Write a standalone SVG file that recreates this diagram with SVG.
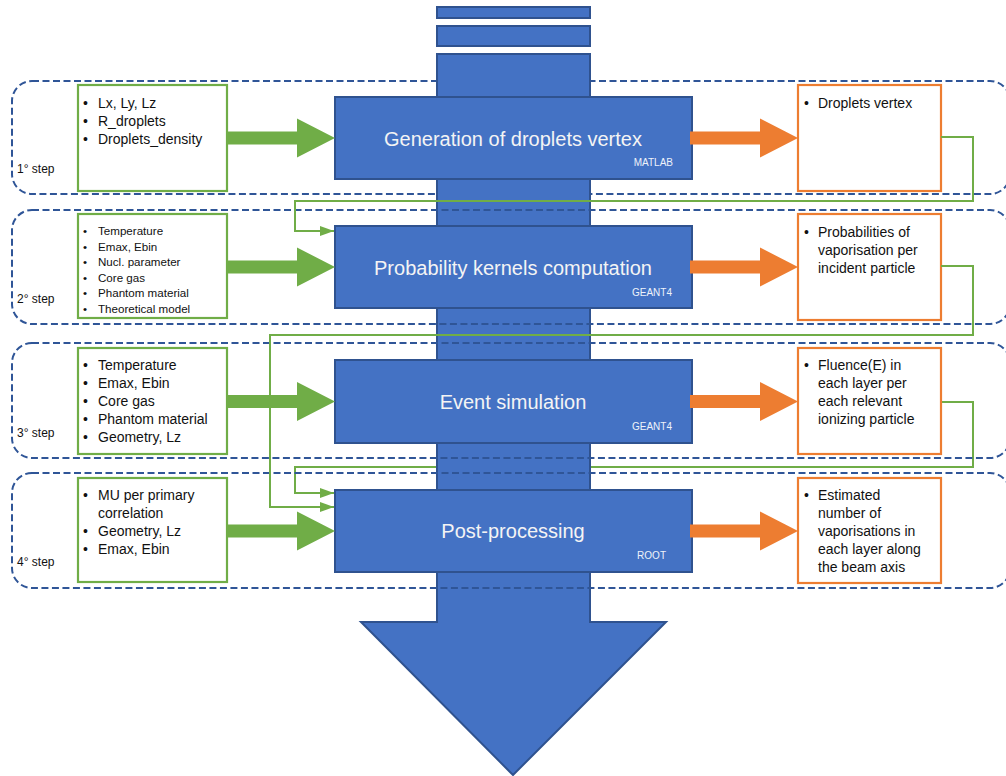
<svg xmlns="http://www.w3.org/2000/svg" width="1006" height="776" viewBox="0 0 1006 776">
  <style>
    text { font-family: "Liberation Sans", Arial, sans-serif; }
    .frame { fill: none; stroke: #2f5597; stroke-width: 2; stroke-dasharray: 7 3.5; }
    .flow { fill: #4472c4; stroke: #2f528f; stroke-width: 2; }
    .proc { fill: #4472c4; stroke: #2f528f; stroke-width: 2; }
    .in { fill: #ffffff; stroke: #70ad47; stroke-width: 2.2; }
    .out { fill: #ffffff; stroke: #ed7d31; stroke-width: 2.2; }
    .title { fill: #f4f4f4; font-size: 20px; text-anchor: middle; }
    .tool { fill: #eef2fa; font-size: 10px; text-anchor: end; }
    .txt { fill: #111111; font-size: 14px; }
    .small { fill: #111111; font-size: 11.6px; }
    .step { fill: #111111; font-size: 12px; }
    .link { fill: none; stroke: #70ad47; stroke-width: 2; marker-end: url(#tip); }
    .fat-g { fill: #70ad47; }
    .fat-o { fill: #ed7d31; }
  </style>
  <defs>
    <marker id="tip" viewBox="0 0 14 10" refX="14" refY="5" markerWidth="14" markerHeight="10" markerUnits="userSpaceOnUse" orient="auto">
      <path d="M0,0 L14,5 L0,10 Z" fill="#70ad47"/>
    </marker>
    <!-- block arrow, tip at origin -->
    <path id="fat" d="M-108,-6.5 H-38 V-19.5 L0,0 L-38,19.5 V6.5 H-108 Z"/>
  </defs>

  <rect width="1006" height="776" fill="#ffffff"/>

  <!-- step 1 frame lies beneath the main flow arrow -->
  <g id="step1-frame">
    <rect class="frame" x="12" y="81" width="998" height="113" rx="20"/>
    <text class="step" x="17" y="173">1° step</text>
  </g>

  <!-- feedback link hidden behind the flow arrow -->
  <g id="connectors-behind">
    <path class="link" d="M941,402 H973 V467 H295 V493 H334"/>
  </g>

  <!-- main downward flow arrow -->
  <g id="flow">
    <rect class="flow" x="437" y="7" width="153" height="11"/>
    <rect class="flow" x="437" y="26" width="153" height="20"/>
    <path class="flow" d="M437,54 H590 V622 H666 L513,775 L361,622 H437 Z"/>
  </g>

  <g id="step2-frame">
    <rect class="frame" x="12" y="210" width="998" height="114" rx="20"/>
    <text class="step" x="17" y="303">2° step</text>
  </g>
  <g id="step3-frame">
    <rect class="frame" x="12" y="343" width="998" height="115" rx="20"/>
    <text class="step" x="17" y="437">3° step</text>
  </g>
  <g id="step4-frame">
    <rect class="frame" x="12" y="473" width="998" height="115" rx="20"/>
    <text class="step" x="17" y="566">4° step</text>
  </g>

  <!-- inputs -->
  <g id="input1">
    <rect class="in" x="78" y="85" width="149" height="106"/>
    <text class="txt"><tspan x="83" y="108">•</tspan><tspan x="98" y="108">Lx, Ly, Lz</tspan></text>
    <text class="txt"><tspan x="83" y="126">•</tspan><tspan x="98" y="126">R_droplets</tspan></text>
    <text class="txt"><tspan x="83" y="144">•</tspan><tspan x="98" y="144">Droplets_density</tspan></text>
  </g>
  <g id="input2">
    <rect class="in" x="78" y="214" width="149" height="104"/>
    <text class="small"><tspan x="83" y="235">•</tspan><tspan x="98" y="235">Temperature</tspan></text>
    <text class="small"><tspan x="83" y="250.5">•</tspan><tspan x="98" y="250.5">Emax, Ebin</tspan></text>
    <text class="small"><tspan x="83" y="266">•</tspan><tspan x="98" y="266">Nucl. parameter</tspan></text>
    <text class="small"><tspan x="83" y="281.5">•</tspan><tspan x="98" y="281.5">Core gas</tspan></text>
    <text class="small"><tspan x="83" y="297">•</tspan><tspan x="98" y="297">Phantom material</tspan></text>
    <text class="small"><tspan x="83" y="312.5">•</tspan><tspan x="98" y="312.5">Theoretical model</tspan></text>
  </g>
  <g id="input3">
    <rect class="in" x="78" y="348" width="149" height="106"/>
    <text class="txt"><tspan x="83" y="370">•</tspan><tspan x="98" y="370">Temperature</tspan></text>
    <text class="txt"><tspan x="83" y="388">•</tspan><tspan x="98" y="388">Emax, Ebin</tspan></text>
    <text class="txt"><tspan x="83" y="406">•</tspan><tspan x="98" y="406">Core gas</tspan></text>
    <text class="txt"><tspan x="83" y="424">•</tspan><tspan x="98" y="424">Phantom material</tspan></text>
    <text class="txt"><tspan x="83" y="442">•</tspan><tspan x="98" y="442">Geometry, Lz</tspan></text>
  </g>
  <g id="input4">
    <rect class="in" x="78" y="478" width="149" height="104"/>
    <text class="txt"><tspan x="83" y="500">•</tspan><tspan x="98" y="500">MU per primary</tspan></text>
    <text class="txt" x="98" y="518">correlation</text>
    <text class="txt"><tspan x="83" y="536">•</tspan><tspan x="98" y="536">Geometry, Lz</tspan></text>
    <text class="txt"><tspan x="83" y="554">•</tspan><tspan x="98" y="554">Emax, Ebin</tspan></text>
  </g>

  <!-- processing stages -->
  <g id="stage1">
    <rect class="proc" x="335" y="97" width="357" height="82"/>
    <text class="title" x="513" y="145.5">Generation of droplets vertex</text>
    <text class="tool" x="673" y="166">MATLAB</text>
  </g>
  <g id="stage2">
    <rect class="proc" x="335" y="226" width="357" height="82"/>
    <text class="title" x="513" y="274.5">Probability kernels computation</text>
    <text class="tool" x="672" y="296">GEANT4</text>
  </g>
  <g id="stage3">
    <rect class="proc" x="335" y="360" width="357" height="83"/>
    <text class="title" x="513" y="409">Event simulation</text>
    <text class="tool" x="672" y="430">GEANT4</text>
  </g>
  <g id="stage4">
    <rect class="proc" x="335" y="490" width="357" height="82"/>
    <text class="title" x="513" y="538">Post-processing</text>
    <text class="tool" x="666" y="559">ROOT</text>
  </g>

  <!-- outputs -->
  <g id="output1">
    <rect class="out" x="798" y="85" width="143" height="106"/>
    <text class="txt"><tspan x="804" y="107.5">•</tspan><tspan x="818" y="107.5">Droplets vertex</tspan></text>
  </g>
  <g id="output2">
    <rect class="out" x="798" y="214" width="143" height="106"/>
    <text class="txt"><tspan x="804" y="236.5">•</tspan><tspan x="818" y="236.5">Probabilities of</tspan></text>
    <text class="txt" x="818" y="254.5">vaporisation per</text>
    <text class="txt" x="818" y="272.5">incident particle</text>
  </g>
  <g id="output3">
    <rect class="out" x="798" y="348" width="143" height="106"/>
    <text class="txt"><tspan x="804" y="370">•</tspan><tspan x="818" y="370">Fluence(E) in</tspan></text>
    <text class="txt" x="818" y="388">each layer per</text>
    <text class="txt" x="818" y="406">each relevant</text>
    <text class="txt" x="818" y="424">ionizing particle</text>
  </g>
  <g id="output4">
    <rect class="out" x="798" y="478" width="143" height="105"/>
    <text class="txt"><tspan x="804" y="499.5">•</tspan><tspan x="818" y="499.5">Estimated</tspan></text>
    <text class="txt" x="818" y="517.5">number of</text>
    <text class="txt" x="818" y="535.5">vaporisations in</text>
    <text class="txt" x="818" y="553.5">each layer along</text>
    <text class="txt" x="818" y="571.5">the beam axis</text>
  </g>

  <g id="connectors">
    <!-- inputs into stages -->
    <use href="#fat" class="fat-g" x="335" y="138"/>
    <use href="#fat" class="fat-g" x="335" y="267"/>
    <use href="#fat" class="fat-g" x="335" y="401.5"/>
    <use href="#fat" class="fat-g" x="335" y="531"/>
    <!-- stages into outputs -->
    <use href="#fat" class="fat-o" x="798" y="138"/>
    <use href="#fat" class="fat-o" x="798" y="267"/>
    <use href="#fat" class="fat-o" x="798" y="401.5"/>
    <use href="#fat" class="fat-o" x="798" y="531"/>
    <!-- outputs fed back into later stages -->
    <path class="link" d="M941,137 H973 V201 H295 V231 H334"/>
    <path class="link" d="M941,266 H973 V335 H270 V507 H334"/>
  </g>
</svg>
